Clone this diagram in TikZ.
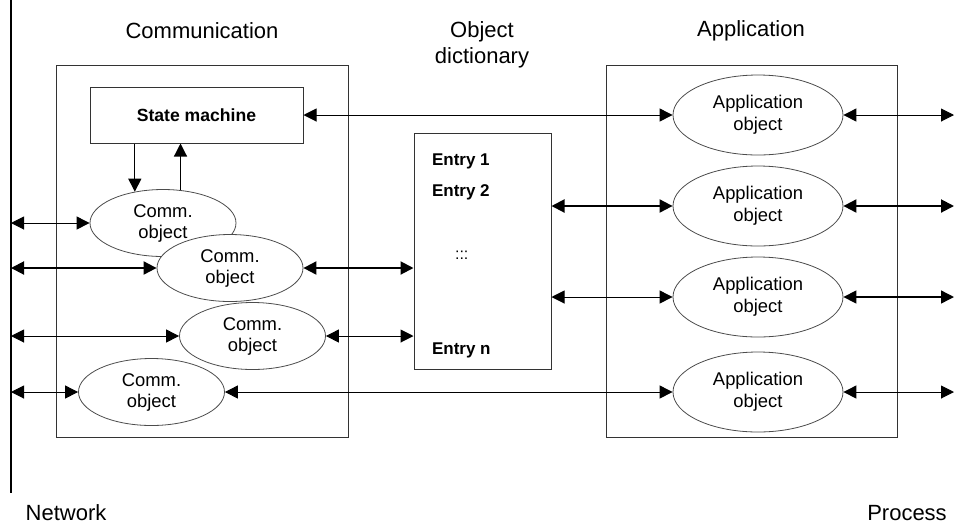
\documentclass[tikz,border=0pt]{standalone}
\usepackage{fontspec}
\setmainfont{Liberation Sans}
\usetikzlibrary{shapes.geometric,arrows.meta}
\begin{document}
\begin{tikzpicture}[x=0.5pt, y=-0.5pt,
	box/.style={draw=black!80, line width=0.5pt, inner sep=0pt},
	comm/.style={ellipse, draw=black!70, fill=white, line width=0.4pt, minimum width=73pt, minimum height=33.5pt, inner sep=0pt, align=center, font=\fontsize{9.2}{10.5}\selectfont},
	appobj/.style={comm, minimum width=85pt, minimum height=40pt, font=\fontsize{9.2}{11}\selectfont},
	entry/.style={anchor=west, font=\fontsize{8.5}{10}\selectfont\bfseries},
	title/.style={font=\fontsize{11}{13}\selectfont, align=center},
	link/.style={{Triangle[length=6.5pt,width=6.5pt]}-{Triangle[length=6.5pt,width=6.5pt]}, line width=0.5pt},
	thick link/.style={link, line width=1pt},
	oneway/.style={-{Triangle[length=6.5pt,width=6.5pt]}, line width=0.6pt}]
	\useasboundingbox (0,0) rectangle (955,527);
	% titles
	\node[title] at (202,31) (tcomm) {Communication};
	\node[title] at (482,45) (tdict) {Object\\dictionary};
	\node[title] at (751,31) (tapp) {Application};
	\node[title] at (66,513) (tnet) {Network};
	\node[title] at (907,513) (tproc) {Process};
	% network line
	\draw[line width=1.3pt] (11,0) -- (11,493);
	% frames
	\node[box, minimum width=146pt, minimum height=186pt] at (202,251) (commbox) {};
	\node[box, minimum width=145.5pt, minimum height=186pt] at (751.5,251) (appbox) {};
	\node[box, minimum width=106.5pt, minimum height=28pt, font=\fontsize{8.8}{10}\selectfont\bfseries] at (196.5,115) (sm) {State machine};
	\node[box, minimum width=68.5pt, minimum height=118pt] at (482.5,251) (dict) {};
	\node[entry] at (425,161) (e1) {Entry 1};
	\node[entry] at (425,192) (e2) {Entry 2};
	\node[entry, font=\fontsize{8}{10}\selectfont] at (448,255) (edots) {:::};
	\node[entry] at (425,350) (en) {Entry n};
	% communication objects
	\node[comm] at (163,223) (c1) {Comm.\\object};
	\node[comm] at (230,268) (c2) {Comm.\\object};
	\node[comm] at (252.5,336) (c3) {Comm.\\object};
	\node[comm] at (151.5,392) (c4) {Comm.\\object};
	% application objects
	\node[appobj] at (758,115) (a1) {Application\\object};
	\node[appobj] at (758,206) (a2) {Application\\object};
	\node[appobj] at (758,297) (a3) {Application\\object};
	\node[appobj] at (758,392) (a4) {Application\\object};
	% end points on network and process side
	\foreach \i/\y in {1/223, 2/268, 3/336, 4/392} \coordinate (n\i) at (11,\y);
	\foreach \i/\y in {1/115, 2/206, 3/297, 4/392} \coordinate (p\i) at (954,\y);
	% connectors
	\draw[oneway] (c1.132 |- sm.south) -- (c1.132);
	\draw[oneway] (c1.62) -- (c1.62 |- sm.south);
	\draw[link] (n1) -- (c1);
	\draw[thick link] (n2) -- (c2);
	\draw[link] (n3) -- (c3);
	\draw[link] (n4) -- (c4);
	\draw[thick link] (c2) -- (c2 -| dict.west);
	\draw[link] (c3) -- (c3 -| dict.west);
	\draw[link] (c4) -- (a4);
	\draw[link] (sm) -- (a1);
	\draw[thick link] (dict.east |- a2) -- (a2);
	\draw[link] (dict.east |- a3) -- (a3);
	\draw[link] (a1) -- (p1);
	\draw[thick link] (a2) -- (p2);
	\draw[link, line width=0.7pt] (a3) -- (p3);
	\draw[link] (a4) -- (p4);
\end{tikzpicture}
\end{document}
